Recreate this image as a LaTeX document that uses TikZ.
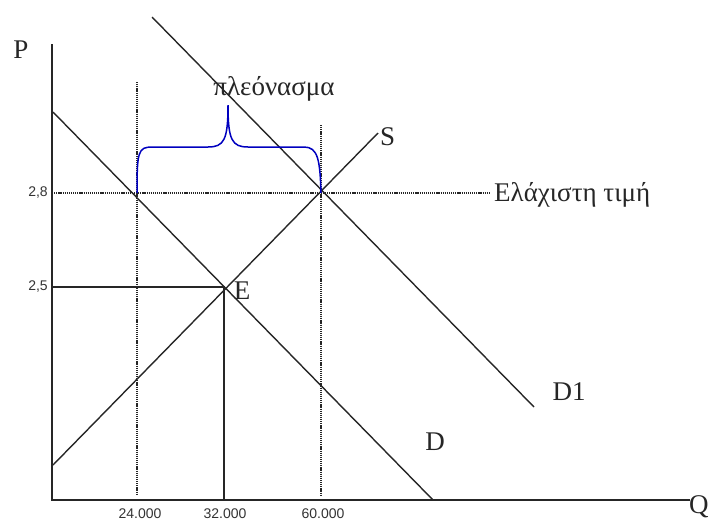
\documentclass[tikz,border=0pt]{standalone}
\usepackage{fontspec}
\setmainfont{Liberation Serif}
\newfontfamily\arialf{Liberation Sans}
\begin{document}
\begin{tikzpicture}[x=1pt,y=-1pt,
  axisline/.style={line width=1.9pt,black!85},
  curve/.style={line width=1.4pt,black!85},
  guide/.style={line width=1.3pt,dash pattern=on 1.2pt off 0.9pt,black!85},
  solidguide/.style={line width=1.3pt,black!85},
  bigl/.style={inner sep=0pt,font=\fontsize{27}{30}\selectfont,text=black!85},
  tickl/.style={inner sep=0pt,font=\arialf\fontsize{14}{16}\selectfont,text=black!80},
  bracel/.style={line width=1.5pt,blue!75!black}]
\useasboundingbox (0,0) rectangle (709,523);
% coordinates
\coordinate (O) at (52,500);
\coordinate (Ptop) at (52,44);
\coordinate (Qend) at (690,500);
\coordinate (Dtop) at (53,112);
\coordinate (Dbot) at (433,500);
\coordinate (D1top) at (152,17);
\coordinate (D1bot) at (534,407);
\coordinate (Sbot) at (53,465);
\coordinate (Stop) at (378,133);
\coordinate (Ept) at (224,287);
\coordinate (A) at (137,193);
\coordinate (B) at (321,193);
\coordinate (Atop) at (137,82);
\coordinate (Abot) at (137,495);
\coordinate (Btop) at (321,125);
\coordinate (Bbot) at (321,495);
\coordinate (L28) at (52,193);
\coordinate (R28) at (490,193);
\coordinate (L25) at (52,287);
\coordinate (Ebot) at (224,500);
% axes
\draw[axisline] (Ptop) -- (O) -- (Qend);
% guides
\draw[guide] (Atop) -- (Abot);
\draw[guide] (Btop) -- (Bbot);
\draw[guide] (L28) -- (R28);
\draw[solidguide] (L25) -- (Ept) -- (Ebot);
% curves
\draw[curve] (Dtop) -- (Dbot);
\draw[curve] (D1top) -- (D1bot);
\draw[curve] (Sbot) -- (Stop);
% brace
\draw[bracel] (A) .. controls (137,152) and (138,147) .. (152,147)
  -- (208,147) .. controls (224,147) and (228,140) .. (228,105)
  .. controls (228,140) and (232,147) .. (248,147)
  -- (304,147) .. controls (318,147) and (320,160) .. (B);
% labels
\node[bigl] (Plab) at (21,50) {P};
\node[bigl,anchor=west] (Qlab) at (689,507) {Q};
\node[bigl,anchor=west] (Slab) at (380,137) {S};
\node[bigl] (Elab) at (242,291) {E};
\node[bigl] (D1lab) at (569,392) {D1};
\node[bigl] (Dlab) at (435,442) {D};
\node[bigl] (surplus) at (274,89) {πλεόνασμα};
\node[bigl,anchor=west] (minp) at (494,195) {Ελάχιστη τιμή};
\node[tickl] (t28) at (38,193) {2,8};
\node[tickl] (t25) at (38,286) {2,5};
\node[tickl] (q24) at (140,514) {24.000};
\node[tickl] (q32) at (225,514) {32.000};
\node[tickl] (q60) at (323,514) {60.000};
\end{tikzpicture}
\end{document}
